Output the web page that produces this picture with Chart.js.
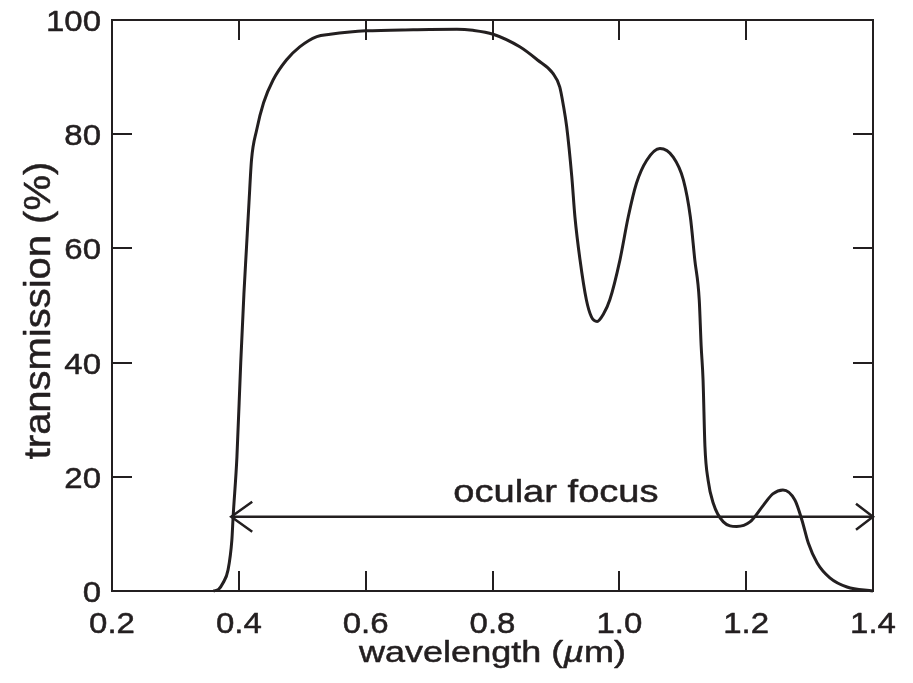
<!DOCTYPE html>
<html>
<head>
<meta charset="utf-8">
<script src="https://cdn.jsdelivr.net/npm/chart.js@4"></script>
<style>
  html, body { margin: 0; padding: 0; background: #fff; }
  canvas { display: block; }
</style>
</head>
<body>
<canvas id="chart" width="913" height="683"></canvas>
<script>
// transmission curve
const wavelength = [0.360, 0.368, 0.375, 0.383, 0.389, 0.391, 0.397, 0.403, 0.408, 0.412, 0.416, 0.420, 0.428, 0.439, 0.454, 0.475, 0.496, 0.523, 0.544, 0.575, 0.600, 0.675, 0.744, 0.769, 0.801, 0.843, 0.871, 0.895, 0.906, 0.912, 0.917, 0.925, 0.930, 0.938, 0.948, 0.956, 0.965, 0.975, 0.985, 1.001, 1.014, 1.027, 1.043, 1.064, 1.085, 1.101, 1.112, 1.119, 1.126, 1.129, 1.132, 1.135, 1.140, 1.148, 1.164, 1.185, 1.206, 1.227, 1.242, 1.258, 1.277, 1.288, 1.298, 1.312, 1.332, 1.359, 1.400];
const transmission = [0, 0.3, 1.4, 3.7, 8.9, 13, 23.5, 40, 52, 60, 68, 75.5, 80.7, 85.5, 89.5, 93, 95.3, 97.1, 97.5, 97.9, 98.1, 98.3, 98.4, 98.2, 97.5, 95.3, 93, 90.7, 88.3, 84.9, 81.3, 72.6, 65.5, 58, 51, 48, 47.2, 48.5, 51, 58, 65.5, 71.4, 75.4, 77.5, 76, 72, 65.5, 58, 51, 43, 37, 25.3, 19.4, 15.4, 12.1, 11.3, 12.1, 15.0, 17.0, 17.7, 15.9, 12.4, 8.4, 4.9, 2.3, 0.7, 0];

// "ocular focus" arrow span and label
const arrowX = [0.388, 1.4];
const arrowY = [13, 13];
const focusLabel = 'ocular focus';
const focusLabelAt = [0.9, 15.5];

const xTicks = [0.2, 0.4, 0.6, 0.8, 1.0, 1.2, 1.4];
const yTicks = [0, 20, 40, 60, 80, 100];

const ink = '#231f20';
const fontFamily = "'Liberation Sans', Arial, Helvetica, sans-serif";

const curve = wavelength.map((w, i) => ({ x: w, y: transmission[i] }));
const arrow = arrowX.map((w, i) => ({ x: w, y: arrowY[i] }));

// the figure's Helvetica is set a little wide and heavy, so text is stretched sideways
// and given a thin outline
function wideText(ctx, parts, x, y, sx, size, align) {
  ctx.save();
  ctx.translate(x, y);
  ctx.scale(sx, 1);
  ctx.lineWidth = 0.5;
  ctx.lineJoin = 'round';
  let total = 0;
  parts.forEach(p => { ctx.font = (p.italic ? 'italic ' : '') + size + 'px ' + fontFamily; total += ctx.measureText(p.t).width; });
  let cx = align === 'right' ? -total : align === 'left' ? 0 : -total / 2;
  ctx.textAlign = 'left';
  parts.forEach(p => {
    ctx.font = (p.italic ? 'italic ' : '') + size + 'px ' + fontFamily;
    ctx.fillText(p.t, cx, 0);
    ctx.strokeText(p.t, cx, 0);
    cx += ctx.measureText(p.t).width;
  });
  ctx.restore();
}

const framePlugin = {
  id: 'frame',
  afterDatasetsDraw(chart) {
    const { ctx, chartArea: a, scales: { x, y } } = chart;
    const tick = 20;
    ctx.save();
    ctx.strokeStyle = ink;
    ctx.fillStyle = ink;
    ctx.textBaseline = 'alphabetic';
    ctx.lineWidth = 2;
    ctx.strokeRect(a.left, a.top, a.right - a.left, a.bottom - a.top);
    ctx.beginPath();
    xTicks.forEach(v => {
      const px = Math.round(x.getPixelForValue(v));
      if (px <= a.left + 1 || px >= a.right - 1) return;
      ctx.moveTo(px, a.bottom); ctx.lineTo(px, a.bottom - tick);
      ctx.moveTo(px, a.top); ctx.lineTo(px, a.top + tick);
    });
    yTicks.forEach(v => {
      const py = Math.round(y.getPixelForValue(v));
      if (py <= a.top + 1 || py >= a.bottom - 1) return;
      ctx.moveTo(a.left, py); ctx.lineTo(a.left + tick, py);
      ctx.moveTo(a.right, py); ctx.lineTo(a.right - tick, py);
    });
    ctx.stroke();

    // tick labels
    xTicks.forEach(v => wideText(ctx, [{ t: v.toFixed(1) }], x.getPixelForValue(v), a.bottom + 42, 1.1, 30, 'center'));
    yTicks.forEach(v => wideText(ctx, [{ t: String(v) }], a.left - 11, y.getPixelForValue(v) + 11, 1.1, 30, 'right'));

    // axis titles
    wideText(ctx, [{ t: 'wavelength (' }, { t: 'µ', italic: true }, { t: 'm)' }], (a.left + a.right) / 2, 662, 1.2, 30, 'center');
    ctx.save();
    ctx.translate(50, (a.top + a.bottom) / 2 + 5);
    ctx.rotate(-Math.PI / 2);
    wideText(ctx, [{ t: 'transmission (%)' }], 0, 0, 1.08, 37, 'center');
    ctx.restore();

    // open arrow heads
    const x0 = x.getPixelForValue(arrowX[0]), x1 = x.getPixelForValue(arrowX[1]);
    const ay0 = y.getPixelForValue(arrowY[0]), ay1 = y.getPixelForValue(arrowY[1]);
    ctx.lineWidth = 2.5;
    ctx.beginPath();
    ctx.moveTo(x0 + 21, ay0 - 15); ctx.lineTo(x0, ay0); ctx.lineTo(x0 + 21, ay0 + 15);
    ctx.moveTo(x1 - 17, ay1 - 13); ctx.lineTo(x1, ay1); ctx.lineTo(x1 - 17, ay1 + 13);
    ctx.stroke();

    wideText(ctx, [{ t: focusLabel }], x.getPixelForValue(focusLabelAt[0]), y.getPixelForValue(focusLabelAt[1]), 1.19, 32, 'center');
    ctx.restore();
  }
};

new Chart(document.getElementById('chart'), {
  type: 'line',
  data: {
    datasets: [
      { data: curve, borderColor: ink, borderWidth: 3, pointRadius: 0, fill: false, cubicInterpolationMode: 'monotone', clip: false },
      { data: arrow, borderColor: ink, borderWidth: 2.5, pointRadius: 0, fill: false, tension: 0, clip: false }
    ]
  },
  options: {
    responsive: false,
    animation: false,
    layout: { padding: { top: 20, right: 40, left: 0, bottom: 0 } },
    plugins: { legend: { display: false }, tooltip: { enabled: false } },
    scales: {
      x: {
        type: 'linear', min: 0.2, max: 1.4,
        afterBuildTicks: s => { s.ticks = xTicks.map(v => ({ value: v })); },
        afterFit: s => { s.height = 92; s.paddingLeft = 0; s.paddingRight = 0; },
        grid: { display: false, drawTicks: false },
        border: { display: false },
        ticks: { display: false }
      },
      y: {
        type: 'linear', min: 0, max: 100,
        afterBuildTicks: s => { s.ticks = yTicks.map(v => ({ value: v })); },
        afterFit: s => { s.width = 112; s.paddingTop = 0; s.paddingBottom = 0; },
        grid: { display: false, drawTicks: false },
        border: { display: false },
        ticks: { display: false }
      }
    }
  },
  plugins: [framePlugin]
});
</script>
</body>
</html>
